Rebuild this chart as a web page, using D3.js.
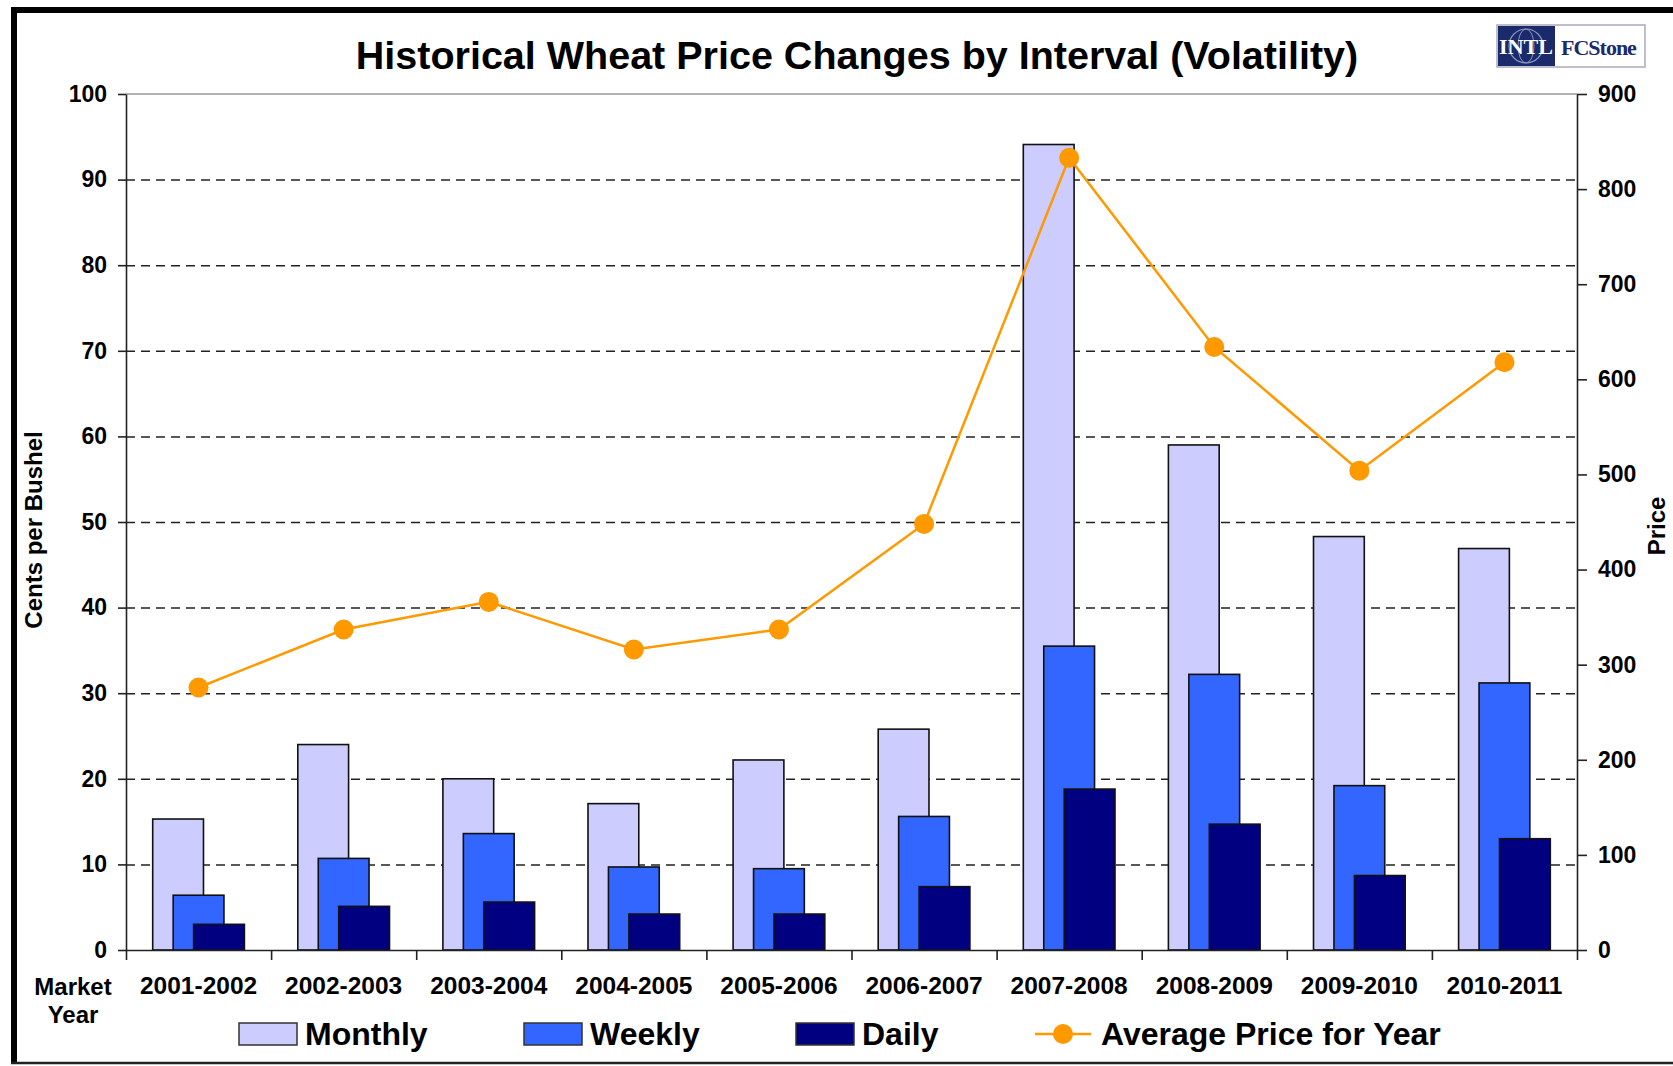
<!DOCTYPE html>
<html>
<head>
<meta charset="utf-8">
<script src="https://cdn.jsdelivr.net/npm/d3@7"></script>
<style>
  body { margin: 0; background: #fff; }
  text { font-family: "Liberation Sans", Arial, sans-serif; }
</style>
</head>
<body>
<div id="chart"></div>
<script>
const years = ["2001-2002", "2002-2003", "2003-2004", "2004-2005", "2005-2006",
               "2006-2007", "2007-2008", "2008-2009", "2009-2010", "2010-2011"];
const monthly = [15.3, 24.0, 20.0, 17.1, 22.2, 25.8, 94.1, 59.0, 48.3, 46.9];
const weekly = [6.4, 10.7, 13.6, 9.7, 9.5, 15.6, 35.5, 32.2, 19.2, 31.2];
const daily = [3.0, 5.1, 5.6, 4.2, 4.2, 7.4, 18.8, 14.7, 8.7, 13.0];
const avgPrice = [276, 337, 366, 316, 337, 448, 833, 634, 504, 618];
const leftTicks = [0, 10, 20, 30, 40, 50, 60, 70, 80, 90, 100];
const rightTicks = [0, 100, 200, 300, 400, 500, 600, 700, 800, 900];

const W = 1673, H = 1066;
const margin = {top: 94, right: 96, bottom: 116, left: 126};
const width = W - margin.left - margin.right;
const height = H - margin.top - margin.bottom;

const root = d3.select("#chart").append("svg")
    .attr("width", W)
    .attr("height", H);

// frame
root.append("rect").attr("x", 0).attr("y", 0).attr("width", W).attr("height", H).attr("fill", "#fff");
root.append("line").attr("x1", 11).attr("x2", W).attr("y1", 10).attr("y2", 10)
    .attr("stroke", "#000").attr("stroke-width", 6);
root.append("line").attr("x1", 14).attr("x2", 14).attr("y1", 7).attr("y2", 1064)
    .attr("stroke", "#000").attr("stroke-width", 6);
root.append("line").attr("x1", 11).attr("x2", W).attr("y1", 1063).attr("y2", 1063)
    .attr("stroke", "#222").attr("stroke-width", 2.5);

// title
root.append("text")
    .attr("x", 857).attr("y", 69)
    .attr("text-anchor", "middle")
    .style("font-size", "39.5px").style("font-weight", "bold")
    .text("Historical Wheat Price Changes by Interval (Volatility)");

// logo
const logo = root.append("g").attr("transform", "translate(1497,25)");
logo.append("rect").attr("width", 148).attr("height", 42).attr("fill", "#fff")
    .attr("stroke", "#aab").attr("stroke-width", 1.5);
logo.append("rect").attr("x", 1).attr("y", 1).attr("width", 57).attr("height", 40).attr("fill", "#1b2a6b");
logo.append("circle").attr("cx", 29).attr("cy", 21).attr("r", 17)
    .attr("fill", "none").attr("stroke", "#8c96c0").attr("stroke-width", 1.2);
logo.append("ellipse").attr("cx", 29).attr("cy", 21).attr("rx", 8).attr("ry", 17)
    .attr("fill", "none").attr("stroke", "#8c96c0").attr("stroke-width", 1);
logo.append("text").attr("x", 29).attr("y", 29).attr("text-anchor", "middle")
    .attr("fill", "#fff").style("font-size", "22px").style("font-weight", "bold")
    .style("font-family", "'Liberation Serif', serif").text("INTL");
logo.append("text").attr("x", 64).attr("y", 30)
    .attr("fill", "#1b2a6b").style("font-size", "22px").style("font-weight", "bold")
    .style("font-family", "'Liberation Serif', serif").style("letter-spacing", "-1px")
    .text("FCStone");

const svg = root.append("g")
    .attr("transform", "translate(" + margin.left + "," + margin.top + ")");

const x = d3.scaleBand().domain(years).range([0, width]);
const xEdge = d3.scaleLinear().domain([0, years.length]).range([0, width]);
const y = d3.scaleLinear().domain([0, 100]).range([height, 0]);
const yPrice = d3.scaleLinear().domain([0, 900]).range([height, 0]);

// gridlines
svg.append("g")
    .attr("class", "grid")
    .call(d3.axisLeft(y).tickValues(leftTicks.slice(1, -1)).tickSize(-width).tickFormat(""))
    .call(g => g.select(".domain").remove())
    .call(g => g.selectAll("line").attr("stroke", "#222").attr("stroke-width", 1.5)
        .attr("stroke-dasharray", "9,6"));

svg.append("line")
    .attr("x1", 0).attr("x2", width).attr("y1", y(100)).attr("y2", y(100))
    .attr("stroke", "#999").attr("stroke-width", 1.5);

// bars
const barW = x.bandwidth() * 0.35;
const step = x.bandwidth() * 0.141;
const seriesList = [
    {name: "Monthly", values: monthly, color: "#ccccff", off: -step},
    {name: "Weekly", values: weekly, color: "#3366ff", off: 0},
    {name: "Daily", values: daily, color: "#000080", off: step}
];

seriesList.forEach(s => {
    svg.append("g").selectAll("rect")
        .data(s.values)
        .enter().append("rect")
        .attr("x", (d, i) => x(years[i]) + x.bandwidth() / 2 + s.off - barW / 2)
        .attr("y", d => y(d))
        .attr("width", barW)
        .attr("height", d => y(0) - y(d))
        .attr("fill", s.color)
        .attr("stroke", "#111")
        .attr("stroke-width", 1.6);
});

// axes
svg.append("g")
    .call(d3.axisLeft(y).tickValues(leftTicks).tickSize(8).tickSizeOuter(0).tickPadding(11))
    .call(g => g.select(".domain").attr("stroke", "#222").attr("stroke-width", 1.6))
    .call(g => g.selectAll(".tick line").attr("stroke", "#222").attr("stroke-width", 1.6))
    .call(g => g.selectAll("text").attr("fill", "#000")
        .style("font-size", "23px").style("font-weight", "bold")
        .style("font-family", "'Liberation Sans', Arial, sans-serif"));

svg.append("g")
    .attr("transform", "translate(" + width + ",0)")
    .call(d3.axisRight(yPrice).tickValues(rightTicks).tickSize(10).tickSizeOuter(0).tickPadding(11))
    .call(g => g.select(".domain").attr("stroke", "#222").attr("stroke-width", 1.6))
    .call(g => g.selectAll(".tick line").attr("stroke", "#222").attr("stroke-width", 1.6))
    .call(g => g.selectAll("text").attr("fill", "#000")
        .style("font-size", "23px").style("font-weight", "bold")
        .style("font-family", "'Liberation Sans', Arial, sans-serif"));

svg.append("g")
    .attr("transform", "translate(0," + height + ")")
    .call(d3.axisBottom(xEdge).tickValues(d3.range(0, years.length + 1)).tickSize(10)
        .tickSizeOuter(0).tickFormat(""))
    .call(g => g.select(".domain").attr("stroke", "#222").attr("stroke-width", 1.6))
    .call(g => g.selectAll(".tick line").attr("stroke", "#222").attr("stroke-width", 1.6));

svg.append("g")
    .attr("transform", "translate(0," + height + ")")
    .call(d3.axisBottom(x).tickSize(0).tickPadding(27))
    .call(g => g.select(".domain").remove())
    .call(g => g.selectAll("text").attr("fill", "#000")
        .style("font-size", "24.5px").style("font-weight", "bold")
        .style("font-family", "'Liberation Sans', Arial, sans-serif"));

// average price line
const priceLine = d3.line()
    .x((d, i) => x(years[i]) + x.bandwidth() / 2)
    .y(d => yPrice(d));

svg.append("path")
    .datum(avgPrice)
    .attr("d", priceLine)
    .attr("fill", "none")
    .attr("stroke", "#ff9900")
    .attr("stroke-width", 2.5);

svg.append("g").selectAll("circle")
    .data(avgPrice)
    .enter().append("circle")
    .attr("cx", (d, i) => x(years[i]) + x.bandwidth() / 2)
    .attr("cy", d => yPrice(d))
    .attr("r", 10)
    .attr("fill", "#ff9900");

// axis titles
root.append("text")
    .attr("transform", "translate(42,530) rotate(-90)")
    .attr("text-anchor", "middle")
    .style("font-size", "24px").style("font-weight", "bold")
    .text("Cents per Bushel");

root.append("text")
    .attr("transform", "translate(1665,526) rotate(-90)")
    .attr("text-anchor", "middle")
    .style("font-size", "24px").style("font-weight", "bold")
    .text("Price");

root.append("text")
    .attr("x", 73).attr("y", 995)
    .attr("text-anchor", "middle")
    .style("font-size", "24px").style("font-weight", "bold")
    .text("Market");
root.append("text")
    .attr("x", 73).attr("y", 1023)
    .attr("text-anchor", "middle")
    .style("font-size", "24px").style("font-weight", "bold")
    .text("Year");

// legend
const legendItems = [
    {text: "Monthly", color: "#ccccff", x: 239},
    {text: "Weekly", color: "#3366ff", x: 524},
    {text: "Daily", color: "#000080", x: 796}
];

const legend = root.append("g");
const lg = legend.selectAll(".legend")
    .data(legendItems)
    .enter().append("g")
    .attr("class", "legend")
    .attr("transform", d => "translate(" + d.x + ",1023)");

lg.append("rect")
    .attr("width", 58).attr("height", 22)
    .attr("fill", d => d.color)
    .attr("stroke", "#333").attr("stroke-width", 1.5);

lg.append("text")
    .attr("x", 66).attr("y", 22)
    .style("font-size", "32px").style("font-weight", "bold")
    .text(d => d.text);

const lineLeg = legend.append("g").attr("transform", "translate(1035,1034)");
lineLeg.append("line").attr("x1", 0).attr("x2", 56).attr("stroke", "#ff9900").attr("stroke-width", 2.5);
lineLeg.append("circle").attr("cx", 28).attr("r", 10).attr("fill", "#ff9900");
lineLeg.append("text")
    .attr("x", 66).attr("y", 11)
    .style("font-size", "32px").style("font-weight", "bold")
    .text("Average Price for Year");
</script>
</body>
</html>
